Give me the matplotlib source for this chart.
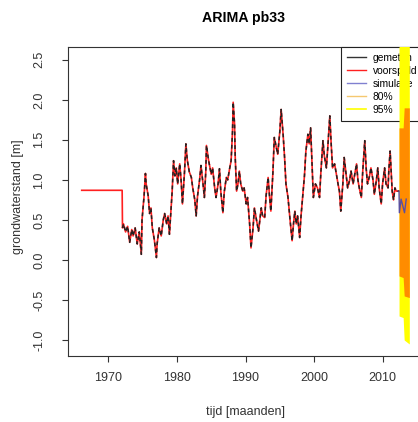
import numpy as np
import matplotlib
matplotlib.use("Agg")
import matplotlib.pyplot as plt

plt.rcParams["font.family"] = ["Liberation Sans", "DejaVu Sans"]
plt.rcParams["axes.unicode_minus"] = False

# fitted ("voorspeld") line: flat start before the observations begin
START_YEARS = [1966.1, 1972.0]
START_VALUES = [0.87, 0.87]

OBS_YEARS = [
    1972.05, 1972.2, 1972.5, 1972.8, 1973.1, 1973.4, 1973.6, 1973.9, 1974.2, 1974.5,
    1974.8, 1974.9, 1975.2, 1975.4, 1975.5, 1975.8, 1976.0, 1976.2, 1976.4, 1976.7,
    1977.0, 1977.1, 1977.4, 1977.7, 1978.0, 1978.2, 1978.5, 1978.7, 1978.9, 1979.1,
    1979.3, 1979.5, 1979.7, 1979.9, 1980.1, 1980.4, 1980.6, 1980.8, 1981.1, 1981.3,
    1981.5, 1981.8, 1982.1, 1982.3, 1982.6, 1982.8, 1983.0, 1983.3, 1983.5, 1983.8,
    1984.0, 1984.2, 1984.3, 1984.6, 1985.0, 1985.2, 1985.5, 1985.7, 1986.0, 1986.2,
    1986.4, 1986.7, 1986.9, 1987.2, 1987.4, 1987.7, 1987.9, 1988.1, 1988.2, 1988.4,
    1988.5, 1988.7, 1988.9, 1989.1, 1989.3, 1989.6, 1989.8, 1990.1, 1990.3, 1990.6,
    1990.8, 1991.1, 1991.3, 1991.6, 1991.9, 1992.3, 1992.5, 1992.8, 1993.0, 1993.3,
    1993.5, 1993.7, 1994.0, 1994.2, 1994.5, 1994.7, 1995.0, 1995.2, 1995.5, 1995.7,
    1995.9, 1996.2, 1996.5, 1996.8, 1997.0, 1997.2, 1997.4, 1997.6, 1997.9, 1998.1,
    1998.4, 1998.6, 1998.8, 1999.1, 1999.3, 1999.5, 1999.7, 1999.9, 2000.2, 2000.5,
    2000.8, 2001.0, 2001.3, 2001.5, 2001.8, 2002.0, 2002.3, 2002.5, 2002.7, 2003.0,
    2003.2, 2003.5, 2003.7, 2003.9, 2004.2, 2004.4, 2004.7, 2004.9, 2005.2, 2005.4,
    2005.7, 2005.9, 2006.2, 2006.4, 2006.6, 2006.9, 2007.1, 2007.4, 2007.6, 2007.8,
    2008.1, 2008.3, 2008.6, 2008.8, 2009.1, 2009.3, 2009.5, 2009.8, 2010.0, 2010.3,
    2010.5, 2010.8, 2010.9, 2011.1, 2011.4, 2011.6, 2011.8, 2012.0, 2012.4,
]
OBS_VALUES = [
    0.40, 0.45, 0.35, 0.42, 0.22, 0.38, 0.30, 0.40, 0.20, 0.35,
    0.07, 0.50, 0.80, 1.08, 0.95, 0.80, 0.58, 0.65, 0.40, 0.25,
    0.03, 0.20, 0.40, 0.30, 0.50, 0.58, 0.45, 0.55, 0.32, 0.60,
    0.86, 1.24, 1.05, 1.15, 0.95, 1.20, 1.00, 0.70, 1.10, 1.45,
    1.25, 1.10, 1.03, 0.90, 0.75, 0.55, 0.80, 1.00, 1.18, 0.95,
    0.78, 1.10, 1.43, 1.25, 1.07, 1.15, 0.90, 0.78, 0.95, 1.14,
    0.85, 0.59, 0.85, 1.03, 1.00, 1.15, 1.24, 1.60, 1.97, 1.70,
    1.28, 0.86, 0.95, 1.11, 0.95, 0.86, 0.90, 0.70, 0.78, 0.45,
    0.15, 0.40, 0.65, 0.50, 0.36, 0.65, 0.55, 0.53, 0.80, 1.03,
    0.80, 0.61, 1.10, 1.53, 1.40, 1.32, 1.60, 1.88, 1.55, 1.28,
    0.95, 0.78, 0.50, 0.24, 0.45, 0.61, 0.45, 0.55, 0.28, 0.55,
    0.86, 1.05, 1.35, 1.57, 1.45, 1.65, 1.20, 0.78, 0.95, 0.90,
    0.78, 1.10, 1.49, 1.30, 1.15, 1.40, 1.80, 1.45, 1.15, 1.20,
    1.10, 0.95, 0.86, 0.61, 0.95, 1.28, 1.05, 0.90, 1.00, 1.11,
    0.95, 1.05, 1.20, 1.00, 0.90, 0.78, 1.10, 1.49, 1.15, 0.95,
    1.05, 1.15, 1.00, 0.82, 1.00, 1.15, 0.90, 0.70, 0.95, 1.15,
    0.95, 0.90, 1.10, 1.36, 0.86, 0.75, 0.90, 0.86, 0.86,
]

# forecast period: simulation and prediction intervals
SIM_YEARS = [2012.45, 2012.7, 2013.2, 2013.45]
SIM_VALUES = [0.59, 0.76, 0.59, 0.76]

BAND_YEARS = [2012.4, 2013.0, 2013.15, 2013.9]
LO95 = [-0.70, -0.72, -1.00, -1.05]
LO80 = [-0.20, -0.22, -0.45, -0.47]
HI80 = [1.65, 1.65, 1.90, 1.90]
HI95 = [2.75, 2.75, 2.90, 2.90]

XTICKS = [1970, 1980, 1990, 2000, 2010]
YTICKS = [-1.0, -0.5, 0.0, 0.5, 1.0, 1.5, 2.0, 2.5]

fig = plt.figure(figsize=(4.18, 4.22), dpi=100)
ax = fig.add_axes([0.1627, 0.1564, 0.8493, 0.7322])

fit_x = START_YEARS + OBS_YEARS
fit_y = START_VALUES + OBS_VALUES
ax.plot(fit_x, fit_y, color="#ff2020", lw=1.2, zorder=2)
ax.plot(OBS_YEARS, OBS_VALUES, color="#222222", lw=1.1, ls=(0, (2.5, 2)), zorder=3)

ax.fill_between(BAND_YEARS, LO95, HI95, color="#ffff00", lw=0, zorder=6)
ax.fill_between(BAND_YEARS, LO80, HI80, color="#ff8c00", lw=0, zorder=7)
ax.plot([OBS_YEARS[-1]] + SIM_YEARS, [OBS_VALUES[-1]] + SIM_VALUES,
        color="#5a4fa0", lw=1.0, zorder=8)

# legend handles (drawn under the bands, like the original)
h = [
    plt.Line2D([], [], color="#333333", lw=1.0),
    plt.Line2D([], [], color="#ff2020", lw=1.0),
    plt.Line2D([], [], color="#8080d0", lw=1.0),
    plt.Line2D([], [], color="#f5c870", lw=1.0),
    plt.Line2D([], [], color="#ffff00", lw=1.2),
]
leg = ax.legend(h, ["gemeten", "voorspeld", "simulatie", "80%", "95%"],
                loc="upper right", bbox_to_anchor=(1, 1), borderaxespad=0,
                fontsize=7.4, frameon=True, fancybox=False, framealpha=1,
                edgecolor="#222222", borderpad=0.55, handlelength=1.8,
                handletextpad=0.7, labelspacing=0.3)
leg.get_frame().set_linewidth(0.8)
leg.set_zorder(5)

ax.set_xlim(1964.1, 2015.9)
ax.set_ylim(-1.2, 2.66)
ax.set_xticks(XTICKS)
ax.set_yticks(YTICKS)
ax.set_yticklabels([f"{v:.1f}" for v in YTICKS], rotation=90, va="center")
ax.tick_params(axis="both", direction="out", length=4.3, width=0.8,
               colors="#333333", labelsize=9)
ax.tick_params(axis="x", pad=7)
ax.tick_params(axis="y", pad=12)
for s in ax.spines.values():
    s.set_color("#333333")
    s.set_linewidth(0.8)

fig.text(0.583, 0.957, "ARIMA pb33", ha="center", va="center",
         fontsize=10.2, fontweight="bold")
fig.text(0.587, 0.024, "tijd [maanden]", ha="center", va="center", fontsize=9,
         color="#333333")
fig.text(0.043, 0.535, "grondwaterstand [m]", ha="center", va="center",
         rotation=90, fontsize=9, color="#333333")

fig.savefig("out.png", dpi=100)
